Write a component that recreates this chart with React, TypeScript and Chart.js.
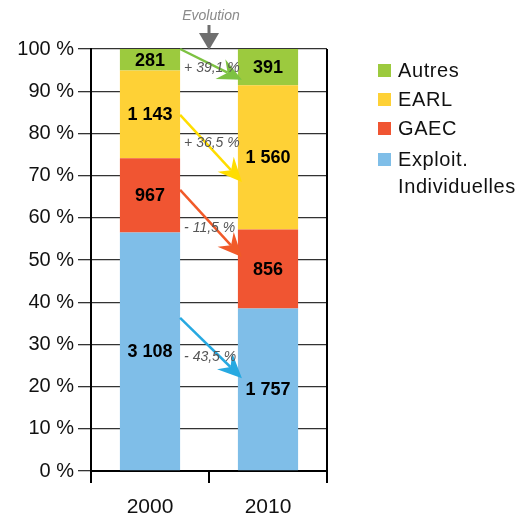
import React, { useEffect, useRef } from 'react';
import { Chart, registerables } from 'chart.js';

Chart.register(...registerables);

const years = ['2000', '2010'];
const seriesNames = ['Exploit. Individuelles', 'GAEC', 'EARL', 'Autres'];
const individuelles = [3108, 1757];
const gaec = [967, 856];
const earl = [1143, 1560];
const autres = [281, 391];
const seriesColors = ['#7FBEE8', '#F05532', '#FED136', '#9CCA3E'];
const arrowColors = ['#27A9E1', '#F15A29', '#FFDD00', '#7DC242'];
const evolutionLabels = ['- 43,5 %', '- 11,5 %', '+ 36,5 %', '+ 39,1 %'];
const arrowFrom = [36.3, 66.6, 84.4, 100];
const arrowTo = [22.0, 50.7, 68.5, 92.7];
const evolutionLabelAt = [27.0, 57.6, 77.7, 95.5];
const legendOrder = [3, 2, 1, 0];
const legendLines = [['Exploit.', 'Individuelles'], ['GAEC'], ['EARL'], ['Autres']];
const evolutionTitle = 'Evolution';

const FONT = "'Liberation Sans', Arial, sans-serif";

const seriesValues = [individuelles, gaec, earl, autres];
const totals = years.map((_, i) => seriesValues.reduce((s, arr) => s + arr[i], 0));

const fmt = (v: number) => String(v).replace(/\B(?=(\d{3})+(?!\d))/g, ' ');

function drawArrow(ctx: CanvasRenderingContext2D, x1: number, y1: number, x2: number, y2: number, color: string, lw: number, L: number, W: number, notch: number) {
  const dx = x2 - x1, dy = y2 - y1;
  const len = Math.hypot(dx, dy);
  const ux = dx / len, uy = dy / len;
  const nx = -uy, ny = ux;
  ctx.save();
  ctx.strokeStyle = color;
  ctx.fillStyle = color;
  ctx.lineWidth = lw;
  ctx.beginPath();
  ctx.moveTo(x1, y1);
  ctx.lineTo(x2 - ux * (L - notch), y2 - uy * (L - notch));
  ctx.stroke();
  ctx.beginPath();
  ctx.moveTo(x2, y2);
  ctx.lineTo(x2 - ux * L + nx * W, y2 - uy * L + ny * W);
  ctx.lineTo(x2 - ux * (L - notch), y2 - uy * (L - notch));
  ctx.lineTo(x2 - ux * L - nx * W, y2 - uy * L - ny * W);
  ctx.closePath();
  ctx.fill();
  ctx.restore();
}

const overlayPlugin = {
  id: 'overlay',
  afterDatasetsDraw(chart: any) {
    const ctx: CanvasRenderingContext2D = chart.ctx;
    const area = chart.chartArea;
    const y = chart.scales.y;
    const x = chart.scales.x;
    // right border
    ctx.save();
    ctx.strokeStyle = '#000';
    ctx.lineWidth = 2;
    ctx.beginPath();
    ctx.moveTo(area.right, area.top);
    ctx.lineTo(area.right, area.bottom);
    ctx.stroke();
    ctx.restore();

    const bar0 = chart.getDatasetMeta(0).data[0];
    const bar1 = chart.getDatasetMeta(0).data[1];
    const b0Right = bar0.x + bar0.width / 2;
    const b1Left = bar1.x - bar1.width / 2;

    // arrows
    for (let i = 0; i < arrowFrom.length; i++) {
      drawArrow(ctx, b0Right, y.getPixelForValue(arrowFrom[i]), b1Left + 4, y.getPixelForValue(arrowTo[i]), arrowColors[i], 2.5, 24, 11, 8);
    }

    // bar value labels
    ctx.save();
    ctx.font = `bold 18px ${FONT}`;
    ctx.fillStyle = '#000';
    ctx.textAlign = 'center';
    ctx.textBaseline = 'middle';
    chart.data.datasets.forEach((ds: any, di: number) => {
      const meta = chart.getDatasetMeta(di);
      meta.data.forEach((el: any, j: number) => {
        const cy = (el.y + el.base) / 2;
        ctx.fillText(fmt(seriesValues[di][j]), el.x, cy + 1);
      });
    });
    ctx.restore();

    // evolution labels
    ctx.save();
    ctx.font = `italic 14px ${FONT}`;
    ctx.fillStyle = '#555';
    ctx.textAlign = 'left';
    ctx.textBaseline = 'middle';
    for (let i = 0; i < evolutionLabels.length; i++) {
      ctx.fillText(evolutionLabels[i], b0Right + 4, y.getPixelForValue(evolutionLabelAt[i]));
    }
    ctx.restore();

    // Evolution title + gray arrow
    const midX = (x.getPixelForValue(0) + x.getPixelForValue(1)) / 2;
    ctx.save();
    ctx.font = `italic 14px ${FONT}`;
    ctx.fillStyle = '#8a8a8a';
    ctx.textAlign = 'center';
    ctx.textBaseline = 'middle';
    ctx.fillText(evolutionTitle, midX + 2, 16);
    ctx.restore();
    drawArrow(ctx, midX, 25, midX, area.top + 1, '#6f6f6f', 3, 17, 10, 0);

    // legend
    ctx.save();
    ctx.font = `20px ${FONT}`;
    (ctx as any).letterSpacing = '0.6px';
    ctx.textAlign = 'left';
    ctx.textBaseline = 'middle';
    const legendX = 378;
    let ly = 70;
    const rowGap = [29, 29, 31];
    legendOrder.forEach((si, k) => {
      ctx.fillStyle = seriesColors[si];
      ctx.fillRect(legendX, ly - 6, 13, 13);
      ctx.fillStyle = '#111';
      const lines = legendLines[si];
      lines.forEach((t, li) => {
        ctx.fillText(t, legendX + 20, ly + 1 + li * 27);
      });
      if (k < rowGap.length) ly += rowGap[k];
    });
    ctx.restore();
  },
};

export default function App() {
  const ref = useRef<HTMLCanvasElement | null>(null);
  useEffect(() => {
    document.body.style.margin = '0';
    if (!ref.current) return;
    const chart = new Chart(ref.current, {
      type: 'bar',
      data: {
        labels: years,
        datasets: seriesNames.map((name, si) => ({
          label: name,
          data: seriesValues[si].map((v, i) => (v / totals[i]) * 100),
          backgroundColor: seriesColors[si],
          borderWidth: 0,
          categoryPercentage: 1,
          barPercentage: 0.51,
        })),
      },
      options: {
        responsive: false,
        animation: false,
        events: [],
        layout: { padding: { left: 0, top: 49, right: 192, bottom: 0 } },
        plugins: { legend: { display: false }, tooltip: { enabled: false } },
        scales: {
          x: {
            stacked: true,
            afterFit: (s: any) => { s.height = 47; },
            grid: { offset: true, drawOnChartArea: false, drawTicks: true, tickLength: 12, color: '#000', lineWidth: 2 },
            border: { display: true, color: '#000', width: 2 },
            ticks: { font: { family: FONT, size: 21 }, color: '#111', padding: 12 },
          },
          y: {
            stacked: true,
            min: 0,
            max: 100,
            afterFit: (s: any) => { s.width = 91; },
            grid: { color: '#333', lineWidth: 1.3, tickLength: 13, drawTicks: true },
            border: { display: true, color: '#000', width: 2 },
            ticks: { stepSize: 10, font: { family: FONT, size: 20 }, color: '#111', padding: 4, callback: (v: any) => `${v} %` },
          },
        },
      },
      plugins: [overlayPlugin],
    });
    return () => chart.destroy();
  }, []);
  return (
    <div style={{ position: 'absolute', left: 0, top: 0, width: 519, height: 518 }}>
      <canvas ref={ref} width={519} height={518} style={{ display: 'block' }} />
    </div>
  );
}
